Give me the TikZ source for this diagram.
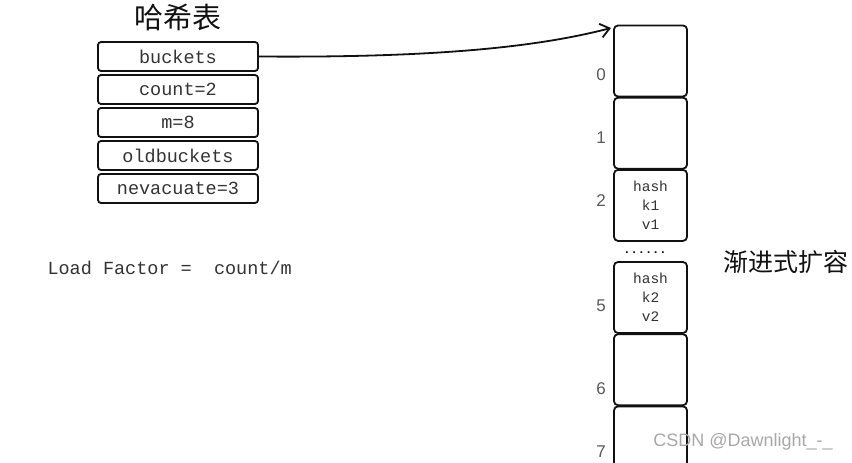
\documentclass[tikz,border=0pt]{standalone}
\usepackage{fontspec}
\setmainfont{Liberation Mono}
\setsansfont{Liberation Sans}
\newfontfamily\cjk{Noto Sans CJK SC}
\usetikzlibrary{arrows.meta,positioning}
\definecolor{ink}{HTML}{111111}
\definecolor{ink2}{HTML}{333333}
\definecolor{muted}{HTML}{5A5A5A}
\definecolor{mark}{HTML}{A8A8A8}
\tikzset{
  field/.style={draw=ink, line width=1.8pt, rounded corners=3pt, minimum width=160pt, minimum height=29pt,
                inner sep=0pt, text=ink2, font=\fontsize{18.5}{20}\selectfont},
  slot/.style={draw=ink, line width=1.8pt, rounded corners=4pt, minimum width=73pt, minimum height=71pt,
               inner sep=0pt, align=center, text=ink2, font=\fontsize{14.5}{19}\selectfont},
  idx/.style={font=\sffamily\fontsize{17}{18}\selectfont, text=muted},
  title/.style={font=\cjk\fontsize{29}{31}\selectfont, text=ink},
  arrow/.style={-{Straight Barb[length=9pt, width=14pt]}, draw=ink, line width=1.8pt},
  tag/.style={font=\fontsize{18.5}{20}\selectfont, text=ink2},
}
\begin{document}
\begin{tikzpicture}[x=1pt, y=-1pt, node distance=2.2pt]
\useasboundingbox[fill=white] (0,0) rectangle (852,463);
% hash table header
\node[title] (ht) at (178,17) {哈希表};
\node[field] (bkt) at (178,56.5) {buckets};
\node[field, below=of bkt] (cnt) {count=2};
\node[field, below=of cnt] (m) {m=8};
\node[field, below=of m] (old) {oldbuckets};
\node[field, below=of old] (nev) {nevacuate=3};

\node[tag, anchor=west] (lf) at (44,268) {Load Factor =\ \ count/m};

% bucket array
\node[slot] (s0) at (650.5,61) {};
\node[slot, below=-0.6pt of s0] (s1) {};
\node[slot, below=-0.6pt of s1] (s2) {hash\\k1\\v1};
\node[font=\bfseries\fontsize{12}{12}\selectfont, text=ink] (dots) at (645,253) {......};
\node[slot] (s5) at (650.5,297.5) {hash\\k2\\v2};
\node[slot, below=-0.6pt of s5] (s6) {};
\node[slot, below=-0.6pt of s6] (s7) {};
\foreach \n/\y in {0/75,1/138,2/201,5/306,6/389,7/452} {\node[idx] (i\n) at (601,\y) {\n};}

\node[title, font=\cjk\fontsize{25}{27}\selectfont] (grow) at (786,262) {渐进式扩容};

\coordinate (tip) at (611,28);
\draw[arrow] (bkt.east) .. controls (450,58) and (545,45) .. (tip);

% watermark
\node[font=\sffamily\fontsize{18}{20}\selectfont, text=mark] (wm) at (743,442) {CSDN @Dawnlight\_-\_};
\end{tikzpicture}
\end{document}
